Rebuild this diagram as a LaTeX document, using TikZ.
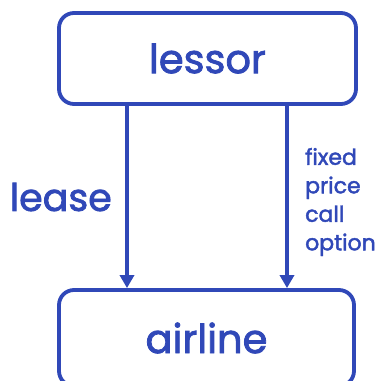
\documentclass[tikz,border=0pt]{standalone}
\usepackage{fontspec}
\setmainfont{Poppins}[FakeBold=2]
\usetikzlibrary{arrows.meta}
\definecolor{blu}{RGB}{48,72,184}
\tikzset{
  boxstyle/.style={draw=blu, line width=3.8pt, rounded corners=15pt, text=blu, font=\fontsize{40}{40}\selectfont, inner sep=0pt},
  arr/.style={draw=blu, line width=3.5pt, -{Triangle[width=14pt,length=13pt]}},
  lbl/.style={text=blu, inner sep=0pt}
}
\begin{document}
\begin{tikzpicture}[x=1pt,y=1pt]
\useasboundingbox (0,0) rectangle (377,381);
\begin{scope}
\clip (0,0) rectangle (377,381);
\node[boxstyle, minimum width=297pt, minimum height=91pt] (lessor) at (207.5,322.5) {lessor};
\node[boxstyle, minimum width=295pt, minimum height=96pt] (airline) at (206.5,43) {airline};
\coordinate (c1) at (127,0);
\coordinate (c2) at (287,0);
\draw[arr] (lessor.south -| c1) -- (airline.north -| c1);
\draw[arr] (lessor.south -| c2) -- (airline.north -| c2);
\node[lbl, anchor=east, font=\fontsize{38}{38}\selectfont] (lease) at (112,184) {lease};
\node[lbl, anchor=west, align=left, font=\fontsize{22}{28.5}\selectfont] (opt) at (305,179) {fixed\\price\\call\\option};
\end{scope}
\end{tikzpicture}
\end{document}
